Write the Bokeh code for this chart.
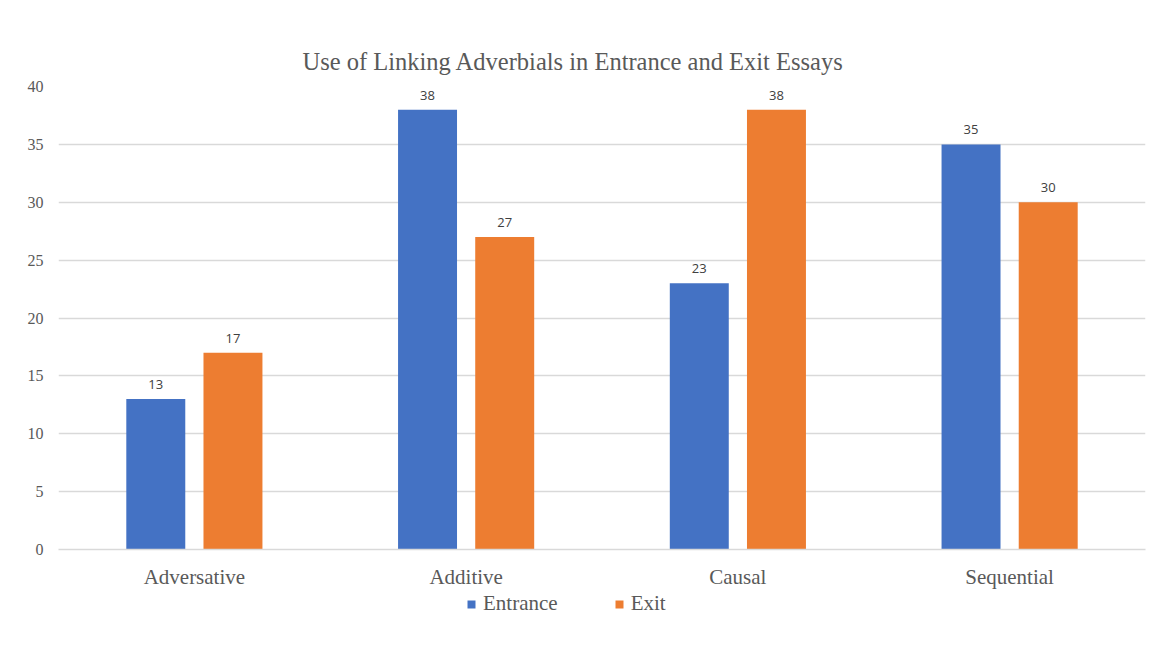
from bokeh.plotting import figure
from bokeh.layouts import column
from bokeh.models import ColumnDataSource, FactorRange, Legend, LegendItem, FixedTicker
from bokeh.transform import dodge
from bokeh.core.properties import value
from bokeh.embed import file_html
from bokeh.resources import INLINE

categories = ["Adversative", "Additive", "Causal", "Sequential"]
entrance = [13, 38, 23, 35]
exit_vals = [17, 27, 38, 30]
y_ticks = [0, 5, 10, 15, 20, 25, 30, 35, 40]
series_names = ["Entrance", "Exit"]

BLUE = "#4472C4"
ORANGE = "#ED7D31"
GRID = "#D9D9D9"
TXT = "#595959"
SERIF = "Liberation Serif"

src = ColumnDataSource(dict(
    cat=categories, entrance=entrance, exit=exit_vals,
    entrance_lbl=[str(v) for v in entrance], exit_lbl=[str(v) for v in exit_vals],
))

p = figure(width=1151, height=592, x_range=FactorRange(*categories), y_range=(0, 40),
           output_backend="svg", toolbar_location=None,
           min_border_left=58, min_border_right=6, min_border_top=86, min_border_bottom=43)

p.title.text = "Use of Linking Adverbials in Entrance and Exit Essays"
p.title.align = "left"
p.title.text_font = SERIF
p.title.text_font_size = "24.5px"
p.title.text_font_style = "normal"
p.title.text_color = TXT
p.title.offset = 244
p.title.standoff = 24

bw = 0.217
off = 0.142
r1 = p.vbar(x=dodge("cat", -off, range=p.x_range), top="entrance", width=bw, source=src,
            fill_color=BLUE, line_color=None)
r2 = p.vbar(x=dodge("cat", off, range=p.x_range), top="exit", width=bw, source=src,
            fill_color=ORANGE, line_color=None)

for col, o in (("entrance_lbl", -off), ("exit_lbl", off)):
    ycol = "entrance" if col.startswith("entrance") else "exit"
    p.text(x=dodge("cat", o, range=p.x_range), y=ycol, text=col, source=src,
           text_align="center", text_baseline="bottom", y_offset=-10,
           text_font=value("Open Sans"), text_font_size="13px", text_color="#404040")

p.xgrid.grid_line_color = None
p.ygrid.grid_line_color = GRID
p.ygrid.grid_line_width = 1.5
p.yaxis.ticker = FixedTicker(ticks=y_ticks)

p.yaxis.axis_line_color = None
p.yaxis.major_tick_line_color = None
p.yaxis.minor_tick_line_color = None
p.yaxis.major_label_text_font = SERIF
p.yaxis.major_label_text_font_size = "16px"
p.yaxis.major_label_text_color = TXT
p.yaxis.major_label_standoff = 9

p.xaxis.axis_line_color = GRID
p.xaxis.axis_line_width = 1.5
p.xaxis.major_tick_line_color = None
p.xaxis.minor_tick_line_color = None
p.xaxis.major_label_text_font = SERIF
p.xaxis.major_label_text_font_size = "21px"
p.xaxis.major_label_text_color = TXT
p.xaxis.major_label_standoff = 9

p.outline_line_color = None

# legend strip below the chart (its zero-width bars draw nothing; they only feed the legend)
lg = figure(width=1151, height=47, output_backend="svg", toolbar_location=None,
            x_axis_type=None, y_axis_type=None, min_border=0,
            x_range=FactorRange(*categories), y_range=(-10, -9))
lg.outline_line_color = None
lg.xgrid.grid_line_color = None
lg.ygrid.grid_line_color = None
g1 = lg.vbar(x="cat", top="entrance", width=0, source=src, fill_color=BLUE, line_color=None)
g2 = lg.vbar(x="cat", top="exit", width=0, source=src, fill_color=ORANGE, line_color=None)

legend = Legend(items=[LegendItem(label=series_names[0], renderers=[g1]),
                       LegendItem(label=series_names[1], renderers=[g2])],
                orientation="horizontal", location=(408, 23))
legend.label_text_font = SERIF
legend.label_text_font_size = "21px"
legend.label_text_color = TXT
legend.glyph_width = 10
legend.glyph_height = 10
legend.spacing = 56
legend.label_standoff = 7
legend.padding = 0
legend.margin = 0
legend.border_line_color = None
legend.background_fill_alpha = 0
lg.add_layout(legend)

layout = column(p, lg, spacing=0)
open("out.html", "w").write(file_html(layout, INLINE))
